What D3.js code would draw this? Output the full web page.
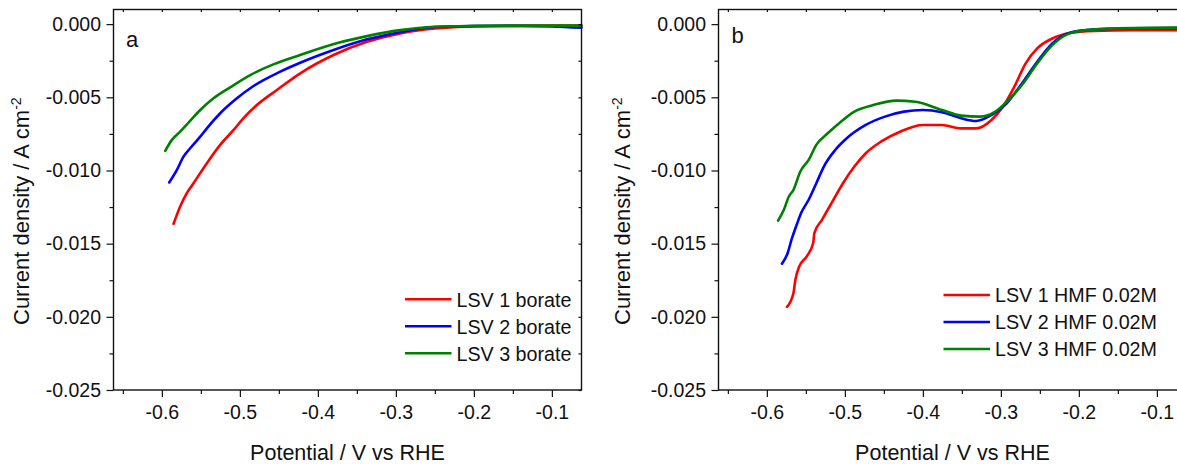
<!DOCTYPE html>
<html><head><meta charset="utf-8">
<script src="https://cdn.jsdelivr.net/npm/d3@7"></script>
<style>
body{margin:0;background:#fff;}
text{font-family:"Liberation Sans",Arial,sans-serif;fill:#111;}
</style></head>
<body><svg id="chart" width="1177" height="464"></svg>
<script>
// ---------- data ----------
const xTicks = [-0.6, -0.5, -0.4, -0.3, -0.2, -0.1];
const yTicks = [0, -0.005, -0.010, -0.015, -0.020, -0.025];
const seriesNamesA = ["LSV 1 borate", "LSV 2 borate", "LSV 3 borate"];
const seriesNamesB = ["LSV 1 HMF 0.02M", "LSV 2 HMF 0.02M", "LSV 3 HMF 0.02M"];
const seriesColors = ["#ff0000", "#0000ff", "#008000"];

// panel a: [potential V vs RHE, current density A cm-2]
const a1 = [[-0.585,-0.01364],[-0.5765,-0.01246],[-0.568,-0.01155],[-0.5594,-0.01087],[-0.5423,-0.0095],[-0.5252,-0.00825],[-0.508,-0.00723],[-0.4953,-0.00643],[-0.4782,-0.00553],[-0.4525,-0.0045],[-0.4226,-0.00336],[-0.3799,-0.00211],[-0.337,-0.00121],[-0.2944,-0.00063],[-0.25,-0.0003],[-0.2,-0.00015],[-0.15,-0.00012],[-0.1,-0.0001],[-0.062,-0.0001]];
const a2 = [[-0.5906,-0.01082],[-0.5807,-0.00996],[-0.5723,-0.00905],[-0.5637,-0.00848],[-0.5508,-0.00769],[-0.5423,-0.00712],[-0.5252,-0.00609],[-0.5038,-0.00507],[-0.4825,-0.00423],[-0.4483,-0.00325],[-0.4226,-0.00264],[-0.3799,-0.00177],[-0.337,-0.00104],[-0.2944,-0.00055],[-0.25,-0.0002],[-0.2,-0.00013],[-0.15,-0.00012],[-0.1,-0.00015],[-0.062,-0.00025]];
const a3 = [[-0.5957,-0.00866],[-0.5871,-0.00791],[-0.5765,-0.00735],[-0.5658,-0.00673],[-0.5508,-0.00587],[-0.5338,-0.00507],[-0.5124,-0.00432],[-0.4867,-0.00348],[-0.4571,-0.00275],[-0.4226,-0.00211],[-0.3736,-0.00128],[-0.337,-0.00082],[-0.2944,-0.00041],[-0.25,-0.00018],[-0.2,-0.00012],[-0.15,-0.0001],[-0.1,-0.0001],[-0.062,-0.0001]];

// panel b
const b1 = [[-0.5742,-0.01932],[-0.5659,-0.01837],[-0.5634,-0.01746],[-0.5585,-0.01656],[-0.5488,-0.01587],[-0.5406,-0.01496],[-0.5391,-0.01428],[-0.5293,-0.01337],[-0.5171,-0.01223],[-0.5024,-0.01087],[-0.4878,-0.00973],[-0.4732,-0.00882],[-0.4537,-0.00803],[-0.4292,-0.00735],[-0.4,-0.00689],[-0.3755,-0.00689],[-0.351,-0.00712],[-0.3316,-0.00712],[-0.312,-0.00655],[-0.2974,-0.00564],[-0.2828,-0.00428],[-0.2682,-0.00268],[-0.2534,-0.00166],[-0.234,-0.00098],[-0.2096,-0.00059],[-0.1803,-0.00046],[-0.1314,-0.00041],[-0.074,-0.00041]];
const b2 = [[-0.5806,-0.01637],[-0.5733,-0.01564],[-0.5684,-0.01473],[-0.561,-0.0136],[-0.5561,-0.01291],[-0.5464,-0.012],[-0.5366,-0.01087],[-0.5269,-0.00973],[-0.5123,-0.0086],[-0.4976,-0.0078],[-0.4732,-0.00689],[-0.4487,-0.00632],[-0.4243,-0.00598],[-0.4,-0.00587],[-0.3755,-0.00602],[-0.351,-0.00643],[-0.3316,-0.00662],[-0.312,-0.00621],[-0.2925,-0.00541],[-0.273,-0.00405],[-0.2534,-0.00257],[-0.234,-0.00132],[-0.2144,-0.00064],[-0.19,-0.00041],[-0.1314,-0.00029],[-0.074,-0.00027]];
const b3 = [[-0.5855,-0.01342],[-0.5782,-0.01269],[-0.5718,-0.01178],[-0.5659,-0.01132],[-0.5571,-0.01007],[-0.5464,-0.00928],[-0.5366,-0.00825],[-0.522,-0.00746],[-0.5073,-0.00677],[-0.4878,-0.00598],[-0.4634,-0.00553],[-0.434,-0.00523],[-0.4097,-0.0053],[-0.3755,-0.00587],[-0.351,-0.00625],[-0.3266,-0.00632],[-0.3071,-0.00598],[-0.2925,-0.0053],[-0.273,-0.00416],[-0.2534,-0.00268],[-0.234,-0.00143],[-0.2144,-0.00068],[-0.19,-0.00041],[-0.1314,-0.00027],[-0.074,-0.00024]];

// ---------- drawing ----------
const svg = d3.select("#chart");
const xDomain = [-0.662, -0.062];
const yDomain = [-0.025, 0.0010];

function panel(opts){
  const {left, top, width, height, series, names, letter, letterPos, legendPos, titleX} = opts;
  const g = svg.append("g").attr("transform", `translate(${left},${top})`);
  const x = d3.scaleLinear().domain(xDomain).range([0, width]);
  const y = d3.scaleLinear().domain(yDomain).range([height, 0]);

  // curves
  const line = d3.line().x(d => x(d[0])).y(d => y(d[1])).curve(d3.curveMonotoneX);
  series.forEach((s, i) => {
    g.append("path").datum(s).attr("d", line)
      .attr("fill", "none").attr("stroke", seriesColors[i])
      .attr("stroke-width", 2.6).attr("stroke-linejoin", "round").attr("stroke-linecap", "round");
  });

  const xMinor = d3.range(-0.65, -0.06, 0.05).map(v => +v.toFixed(2)).filter(v => !xTicks.includes(v));
  const yMinor = d3.range(-0.0225, 0.001, 0.005).map(v => +v.toFixed(4));
  const xAll = d3.range(-0.65, -0.06, 0.05).map(v => +v.toFixed(2));
  const yAll = d3.range(-0.025, 0.0001, 0.0025).map(v => +v.toFixed(4));

  // bottom axis major
  const bx = g.append("g").attr("transform", `translate(0,${height})`)
    .call(d3.axisBottom(x).tickValues(xTicks).tickSize(7).tickSizeOuter(0).tickFormat(d => d.toFixed(1)));
  bx.select(".domain").remove();
  bx.selectAll("text").attr("y", 15.5).style("font-size", "19.5px").attr("fill", "#111");
  g.append("g").attr("transform", `translate(0,${height})`)
    .call(d3.axisBottom(x).tickValues(xMinor).tickSize(4).tickSizeOuter(0).tickFormat(""))
    .select(".domain").remove();
  // top axis ticks (inward)
  g.append("g").call(d3.axisBottom(x).tickValues(xAll).tickSize(2.5).tickSizeOuter(0).tickFormat(""))
    .select(".domain").remove();

  // left axis
  const ly = g.append("g")
    .call(d3.axisLeft(y).tickValues(yTicks).tickSize(7).tickSizeOuter(0).tickFormat(d => d === 0 ? "0.000" : d.toFixed(3)));
  ly.select(".domain").remove();
  ly.selectAll("text").attr("x", -12.5).style("font-size", "19.5px").attr("fill", "#111");
  g.append("g").call(d3.axisLeft(y).tickValues(yMinor).tickSize(4).tickSizeOuter(0).tickFormat(""))
    .select(".domain").remove();
  // right axis ticks (inward)
  g.append("g").attr("transform", `translate(${width},0)`)
    .call(d3.axisRight(y).tickValues(yAll).tickSize(-3).tickSizeOuter(0).tickFormat(""))
    .select(".domain").remove();

  g.selectAll(".tick line").attr("stroke", "#111").attr("stroke-width", 1.2);

  // frame
  g.append("rect").attr("x", 0).attr("y", 0).attr("width", width).attr("height", height)
    .attr("fill", "none").attr("stroke", "#111").attr("stroke-width", 1.4);

  // panel letter
  g.append("text").attr("x", letterPos[0]).attr("y", letterPos[1]).style("font-size", "22px").text(letter);

  // legend
  names.forEach((n, i) => {
    const ly0 = legendPos[1] + i * 27;
    g.append("line").attr("x1", legendPos[0]).attr("x2", legendPos[0] + 46.5)
      .attr("y1", ly0).attr("y2", ly0).attr("stroke", seriesColors[i]).attr("stroke-width", 2.6);
    g.append("text").attr("x", legendPos[0] + 51.5).attr("y", ly0 + 7.3)
      .style("font-size", "19.7px").text(n);
  });

  // axis titles
  g.append("text").attr("x", width > 500 ? (581.5 - 113.5) / 2 : width / 2).attr("y", 460 - top)
    .attr("text-anchor", "middle").style("font-size", "21.5px").text("Potential / V vs RHE");
  const yt = g.append("text").attr("transform", `translate(${titleX - left},${325 - top}) rotate(-90)`)
    .style("font-size", "22px");
  yt.append("tspan").text("Current density / A cm");
  yt.append("tspan").attr("dy", "-0.55em").style("font-size", "14px").text("-2");
}

panel({left: 113.5, top: 9.5, width: 468, height: 380.5, series: [a1, a2, a3], names: seriesNamesA,
  letter: "a", letterPos: [12.5, 37.2], legendPos: [291.5, 289.8], titleX: 28.5});
panel({left: 718.5, top: 9.5, width: 468, height: 380.5, series: [b1, b2, b3], names: seriesNamesB,
  letter: "b", letterPos: [13, 33.8], legendPos: [225, 285.5], titleX: 629.5});
</script></body></html>
